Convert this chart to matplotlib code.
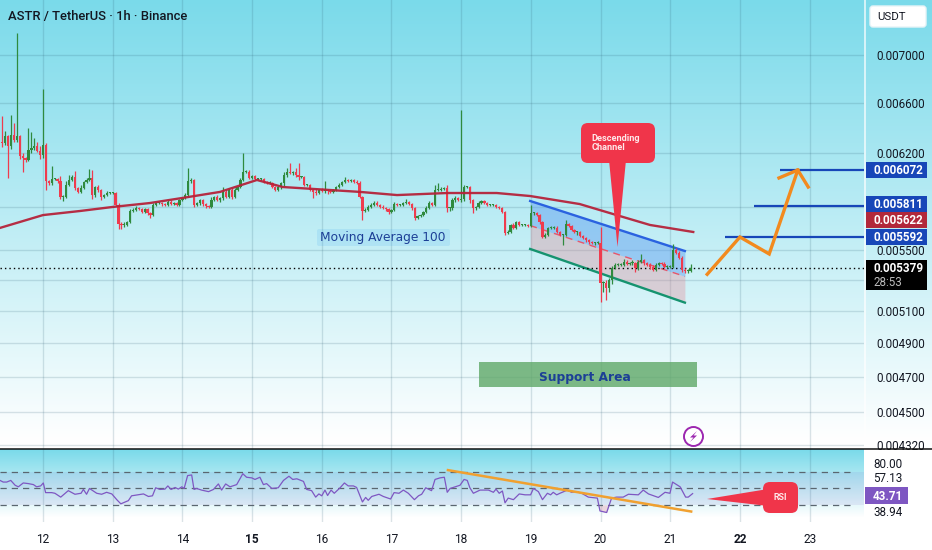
import numpy as np
import matplotlib
matplotlib.use("Agg")
import matplotlib.pyplot as plt
from matplotlib.patches import FancyBboxPatch, Polygon, Circle, Rectangle

# ---- price data, units of 1e-6 USDT, one value per hour, first bar is 11th 10:00
closes = [
    6279,6334,6255,6342,6303,6334,6178,6163,6148,6224,6240,6255,6216,6186,
    6263,5990,5976,6005,6005,5990,5873,5873,5961,5998,6020,5939,5910,5939,5983,5998,6013,5887,5946,5924,5873,5887,5902,5902,
    5902,5815,5680,5673,5673,5694,5772,5779,5793,5786,5765,5786,5757,5743,5815,5829,5829,5822,5815,5837,5822,5829,5815,5851,
    5866,5887,5990,5998,5815,5829,5851,5822,5808,5801,5851,5873,5851,5866,5910,5873,5924,5873,5924,5946,5998,6057,6057,6013,
    6027,6005,6005,6005,5983,5976,5976,5946,5924,5946,5976,6035,6057,6050,6057,6035,6020,6020,5961,5961,5924,5910,5902,5924,
    5917,5924,5917,5910,5924,5946,5961,5983,5998,5990,5998,5983,5976,5873,5772,5779,5801,5815,5829,5815,5801,5793,5786,5765,
    5779,5822,5815,5815,5829,5837,5822,5793,5722,5736,5743,5765,5793,5829,5815,5924,5924,5932,5939,5793,5793,5851,5866,5851,
    5858,5946,5946,5851,5793,5801,5829,5844,5829,5815,5815,5815,5801,5793,5765,5617,5624,5673,5652,5694,5673,5673,5673,5666,
    5757,5757,5743,5694,5589,5603,5652,5652,5652,5624,5603,5603,5680,5666,5638,5624,5624,5596,5582,5568,5554,5548,5548,5548,
    5281,5281,5249,5300,5379,5399,5399,5399,5419,5406,5412,5412,5379,5419,5432,5412,5399,5386,5366,5399,5412,5406,5386,5386,
    5386,5500,5480,5446,5366,5359,5359,5379,
]
upper_wick = [
    205,40,10,158,96,860,10,20,10,175,125,60,30,40,
    450,15,10,100,10,10,40,15,30,37,15,45,10,20,10,15,67,60,10,15,10,10,15,10,
    10,10,15,15,20,10,15,15,15,10,10,10,10,10,15,10,10,10,10,15,15,10,10,10,
    10,15,97,15,10,10,10,10,10,10,25,10,15,10,35,15,15,15,15,10,15,144,15,15,
    10,10,10,10,10,10,15,10,10,10,10,20,30,70,10,30,90,10,10,10,10,10,20,10,
    15,70,10,10,10,10,15,10,22,10,10,10,15,15,10,15,15,15,15,15,10,15,10,10,
    10,15,10,10,10,20,10,10,10,10,10,10,15,15,10,35,52,15,10,20,10,15,15,10,
    680,15,10,10,10,10,15,10,10,10,10,10,10,10,10,10,15,10,15,10,10,10,10,10,
    58,10,10,10,10,15,10,15,15,15,10,10,30,10,10,10,10,10,10,10,10,10,10,15,
    110,15,20,15,15,10,10,10,20,10,10,20,10,15,40,10,10,10,10,15,10,10,10,10,
    10,40,15,10,10,10,10,25,
]
lower_wick = [
    30,15,242,25,20,15,20,106,15,10,25,15,10,30,
    25,66,15,15,10,15,15,30,10,10,10,15,10,10,10,10,10,25,15,15,25,10,10,10,
    10,10,35,30,15,10,10,10,10,10,10,10,15,20,10,10,10,15,10,10,10,10,10,10,
    10,10,15,15,15,10,15,15,15,10,10,10,10,15,15,10,10,15,10,10,10,10,10,10,
    10,10,10,10,10,10,10,10,10,10,15,20,15,10,15,15,25,10,10,10,10,44,15,10,
    10,15,25,10,10,10,10,10,10,10,10,10,10,10,64,10,10,10,10,10,10,10,15,15,
    10,10,10,10,10,10,10,15,15,10,10,10,10,10,10,10,10,10,10,25,20,15,15,10,
    15,15,10,25,36,15,10,10,10,10,10,10,10,10,10,15,10,10,10,10,10,10,10,10,
    10,10,10,15,10,10,10,10,10,10,10,69,10,10,10,10,20,10,10,10,10,10,15,10,
    122,59,79,30,25,10,10,10,10,10,10,10,25,15,10,10,10,15,10,10,10,10,10,10,
    10,10,10,10,15,15,15,10,
]
first_open = 6290

# moving average 100
ma_days = [11.38,12.0,12.53,13.0,13.53,14.0,14.54,15.07,15.44,15.87,16.55,17.08,17.8,18.51,18.99,19.7,20.23,20.71,21.33]
ma_prices = [5652,5743,5772,5801,5829,5866,5910,5998,5946,5932,5910,5887,5902,5902,5880,5822,5743,5673,5624]

# channel
channel_days = [18.99, 21.21]
channel_top = [5844, 5493]
channel_mid = [5669, 5323]
channel_bot = [5507, 5153]

# levels and projected path
level_prices = [6072, 5811, 5592]
level_starts = [22.57, 22.2, 21.78]
path_days = [21.53, 22.0, 22.42, 22.83]
path_prices = [5337, 5589, 5473, 6072]
head_days = [22.56, 22.83, 22.98]
head_prices = [6013, 6072, 5946]
support_days = [18.25, 21.38]
support_prices = [4642, 4788]
last_price = 5379

# rsi, hours after 12th 00:00
rsi_hours = [-14.8,-13.7,-12.5,-11.1,-9.6,-8.5,-6.8,-5,-3.3,-2.2,-.8,.1,.9,3,4.1,6.1,8.7,11,13.1,13.9,15,16,18.5,20.2,21.9,23.7,
    25.4,26.8,29.4,30.5,34.6,36.3,37.7,38.8,40.3,42,43,44.1,45.5,46.6,47.8,48.6,49.8,51.2,52,52.9,54.6,57,58.7,60.4,61.5,62.9,
    64.4,66.7,68.8,70.1,71.9,73,74.7,75.9,77,78.8,81,82.8,84.7,86,87.4,89.7,90.8,92.5,93.9,95,96,97.1,98,99.2,100.3,102.3,103.8,
    105.1,106.9,108,110,111.1,112,113.2,114.3,115.7,117.2,119.7,120.9,122.6,124.1,125.8,127.9,129.3,130.4,131.8,133.8,135,136.7,
    138.2,139.2,140.2,141.9,143.6,145,146.1,147,148.2,150.5,153.4,155.1,156,157.1,158.2,159.1,160.2,162,164,166,167.9,168.9,
    170.6,172,173.7,174.8,175.7,176.9,178,180.6,182,183.8,185.5,187.8,190.9,191.8,194.1,195.8,197.5,199.8,201.6,205,206.7,208.5,
    211.9,214.2,215.9,216.8,219.4,221.3,222.2,223.7]
rsi_values = [59.8,57.8,57.8,59.8,53.9,52,56.7,55.9,54.7,52,53.1,56.7,44.9,44.9,44.1,39.4,47.3,42.9,44.1,48.8,42.9,50,44.1,42.9,45.3,43.3,
    36.3,31.2,35.1,41,43.3,40.2,41,50.8,48.8,49.2,53.1,48.8,51.2,49.2,52,50,65.7,66.5,48.8,50,48,46.1,48.8,55.5,48,55.5,
    52,54.7,68,63.7,62.9,61,63.7,54.7,55.9,50,50.8,59.8,64.9,61,61.8,58.6,48.8,47.3,39.4,43.3,41,48,41.4,48,44.1,50.8,56.7,
    53.1,53.1,51.2,33.5,39,35.5,40.2,41.4,42.9,40.2,37.1,44.9,44.1,48,44.1,36.3,41,42.9,50.8,47.3,61,62.9,
    63.7,45.3,50,52,53.9,61,59.8,50.8,44.1,48,48,45.3,49.2,44.1,46.9,32.4,38.2,36.3,43.3,42.2,42.2,50,
    46.1,36.3,44.1,42.2,45.3,42.2,44.1,48,45.3,46.1,44.1,39.4,38.2,22.5,20.6,38.2,39.4,39.4,42.9,42.2,48,43.3,
    39,45.3,44.1,57.8,52,39.4,39.4,43.7]
rsi_levels = [70, 50, 30]
rsi_trend_days = [17.81, 21.30]
rsi_trend_vals = [72.4, 21.8]

price_ticks = [7000,6600,6200,5800,5500,5300,5100,4900,4700,4500,4320]
price_labels = ['0.007000','0.006600','0.006200','','0.005500','','0.005100','0.004900','0.004700','0.004500','0.004320']
day_ticks = [12,13,14,15,16,17,18,19,20,21,22,23]

UP = '#2f8a3e'
DOWN = '#ef3b4e'
ORANGE = '#f28a1e'
BLUE = '#1746b8'
TEXT = '#131722'
NAVY = '#1c3f96'
RED = '#f0354a'
plt.rcParams['font.family'] = ['Roboto', 'DejaVu Sans']

W, H = 932, 550
fig = plt.figure(figsize=(W/100, H/100), dpi=100, facecolor='white')

# background gradients
bg = fig.add_axes([0, 0, 1, 1], zorder=0)
bg.axis('off')
top_col = np.array([122, 218, 234]) / 255
grad = np.ones((H, W, 3))
t = np.clip(np.arange(449) / 440, 0, 1)[:, None, None]
grad[:449, :, :] = top_col * (1 - t) + t
t = np.clip(np.arange(73) / 68, 0, 1)[:, None, None]
grad[449:522, :864, :] = top_col * (1 - t) + t
bg.imshow(grad, extent=(0, W, H, 0), aspect='auto', interpolation='nearest')
bg.set_xlim(0, W); bg.set_ylim(H, 0)
bg.plot([864.5, 864.5], [0, 449], color='white', lw=1.2, alpha=0.8)

# axes in figure fractions
ax = fig.add_axes([0, 1 - 449/H, 864/W, 449/H], zorder=1)
rsi = fig.add_axes([0, 1 - 522/H, 864/W, 73/H], zorder=1)
xlim = (11.383, 23.78)

ax.patch.set_visible(False)
ax.set_yscale('log')
ax.set_xlim(xlim)
ax.set_ylim(4299, 7495)
ax.minorticks_off()
ax.set_yticks(price_ticks)
ax.set_yticklabels(price_labels, fontsize=8.4, color=TEXT)
ax.yaxis.tick_right()
ax.tick_params(axis='y', length=0, pad=9)
ax.set_xticks(day_ticks)
ax.tick_params(axis='x', length=0, labelbottom=False)
ax.grid(True, color='#2a5a70', alpha=0.17, lw=1)
ax.set_axisbelow(True)
for s in ax.spines.values():
    s.set_visible(False)

# channel
ax.fill_between(channel_days, channel_mid, channel_top, color='#5b9bf0', alpha=0.45, lw=0, zorder=1.5)
ax.fill_between(channel_days, channel_bot, channel_mid, color='#e58a96', alpha=0.35, lw=0, zorder=1.5)
ax.plot(channel_days, channel_top, color='#2a62e0', lw=1.7, zorder=1.6)
ax.plot(channel_days, channel_bot, color='#15936f', lw=1.7, zorder=1.6)
ax.plot(channel_days, channel_mid, color='#e8566a', lw=1, ls=(0, (5, 4)), zorder=1.6)

# support zone
ax.fill_between(support_days, support_prices[0], support_prices[1], color='#5fa868', alpha=0.8, lw=0)

# candles
n = len(closes)
days = 12 + (np.arange(n) - 14) / 24
opens = [first_open] + closes[:-1]
for d, o, c, u, l in zip(days, opens, closes, upper_wick, lower_wick):
    col = UP if c >= o else DOWN
    hi = max(o, c) + u
    lo = min(o, c) - l
    ax.vlines(d, lo, hi, color=col, lw=0.9, zorder=3)
    body = abs(c - o)
    if body < 7:
        body = 7
    ax.bar(d, body, bottom=min(o, c), width=0.032, color=col, lw=0, zorder=3)

# MA, last price, levels, projection
ax.plot(ma_days, ma_prices, color='#b5233a', lw=1.7, zorder=4, alpha=0.95)
ax.axhline(last_price, color='black', lw=1, ls=(0, (1, 2.2)), zorder=2)
ax.hlines(level_prices, level_starts, xlim[1], color=BLUE, lw=1.6, zorder=4)
ax.plot(path_days, path_prices, color=ORANGE, lw=2.4, zorder=5, solid_joinstyle='miter')
ax.plot(head_days, head_prices, color=ORANGE, lw=2.4, zorder=5, solid_joinstyle='miter')

# rsi pane
rsi.patch.set_visible(False)
rsi.set_xlim(xlim)
rsi.set_ylim(9, 98.2)
rsi.set_yticks([])
rsi.set_xticks(day_ticks)
rsi.set_xticklabels([str(d) for d in day_ticks], fontsize=8.6, color=TEXT)
for lab, d in zip(rsi.get_xticklabels(), day_ticks):
    if d in (15, 22):
        lab.set_fontweight('bold')
rsi.tick_params(axis='x', length=0, pad=8)
rsi.grid(True, axis='x', color='#2a5a70', alpha=0.17, lw=1)
rsi.set_axisbelow(True)
for s in rsi.spines.values():
    s.set_visible(False)
rsi.axhspan(rsi_levels[2], rsi_levels[0], color='#7e57c2', alpha=0.10, lw=0)
rsi.hlines(rsi_levels, xlim[0], 23.62, color='#5a6670', lw=0.9, ls=(0, (5, 4)))
rsi_days = 12 + np.array(rsi_hours) / 24
rsi.plot(rsi_days, rsi_values, color='#7e57c2', lw=0.9)
rsi.fill_between(rsi_days, rsi_values, 30, where=np.array(rsi_values) < 30, color='#e8a0b0', alpha=0.4, lw=0, interpolate=True)
rsi.plot(rsi_trend_days, rsi_trend_vals, color='#f0a030', lw=1.8)

# overlay in pixels for price scale boxes, callouts and captions
ov = fig.add_axes([0, 0, 1, 1], zorder=5)
ov.set_xlim(0, W); ov.set_ylim(H, 0); ov.axis('off'); ov.patch.set_visible(False)
ov.axhline(449, color='#111111', lw=1.1)

ov.text(8, 16.5, 'ASTR / TetherUS · 1h · Binance', fontsize=9.4, color=TEXT, fontweight='medium', va='center')

ov.add_patch(FancyBboxPatch((870, 6), 56, 21, boxstyle='round,pad=0,rounding_size=3', fc='white', ec='#e8f4f7', lw=1))
ov.text(877, 17, 'USDT', fontsize=8.2, color=TEXT, va='center')

boxes = [(162, 178, BLUE, '0.006072'), (196, 212, BLUE, '0.005811'),
         (212, 228, '#b2283a', '0.005622'), (229, 245, BLUE, '0.005592')]
for y0, y1, col, txt in boxes:
    ov.add_patch(Rectangle((866, y0), 61, y1 - y0, fc=col, ec='none'))
    ov.text(873, (y0 + y1) / 2 + 0.3, txt, fontsize=8.4, color='white', fontweight='bold', va='center')
ov.add_patch(Rectangle((866, 260), 61, 30, fc='black', ec='none'))
ov.text(873, 268.5, '0.005379', fontsize=8.4, color='white', fontweight='bold', va='center')
ov.text(873, 283, '28:53', fontsize=8.4, color='#bbbbbb', va='center')

# rsi scale
ov.text(873, 464, '80.00', fontsize=8.4, color=TEXT, va='center')
ov.text(873, 479, '57.13', fontsize=8.4, color=TEXT, va='center')
ov.add_patch(Rectangle((865, 487), 43, 17, fc='#7e57c2', ec='none'))
ov.text(873, 496, '43.71', fontsize=8.4, color='white', fontweight='bold', va='center')
ov.text(873, 512.5, '38.94', fontsize=8.4, color=TEXT, va='center')

# captions
ov.add_patch(FancyBboxPatch((317, 229), 133, 17, boxstyle='round,pad=0,rounding_size=2', fc='#2196f3', alpha=0.12, ec='none'))
ov.text(383, 237.5, 'Moving Average 100', fontsize=8.8, color=NAVY, ha='center', va='center',
        family=['DejaVu Sans'], fontweight='medium')
ov.text(584.5, 377.5, 'Support Area', fontsize=8.8, color=NAVY, ha='center', va='center',
        family=['DejaVu Sans'], fontweight='bold')

# descending channel callout
ov.add_patch(Polygon([(609, 160), (626, 160), (617.5, 247)], fc=RED, ec='none'))
ov.add_patch(FancyBboxPatch((581, 123), 74, 40, boxstyle='round,pad=0,rounding_size=7', fc=RED, ec='none'))
ov.text(591.5, 143, 'Descending\nChannel', fontsize=6.6, color='#ffe8ea', fontweight='bold', va='center', linespacing=1.05)

# rsi callout
ov.add_patch(Polygon([(707, 499), (768, 489), (768, 506)], fc=RED, ec='none'))
ov.add_patch(FancyBboxPatch((763, 482), 35, 31, boxstyle='round,pad=0,rounding_size=7', fc=RED, ec='none'))
ov.text(780.5, 497.5, 'RSI', fontsize=6.4, color='#ffe8ea', fontweight='bold', ha='center', va='center')

# lightning badge
ov.add_patch(Circle((693.5, 436.5), 9.5, fc='white', ec='#9c27b0', lw=1.4))
ov.add_patch(Polygon([(697, 431), (690, 437.5), (693.5, 437.5), (690, 442), (697, 435.5), (693.5, 435.5)], fc='#9c27b0', ec='none'))

fig.savefig('out.png', dpi=100)
